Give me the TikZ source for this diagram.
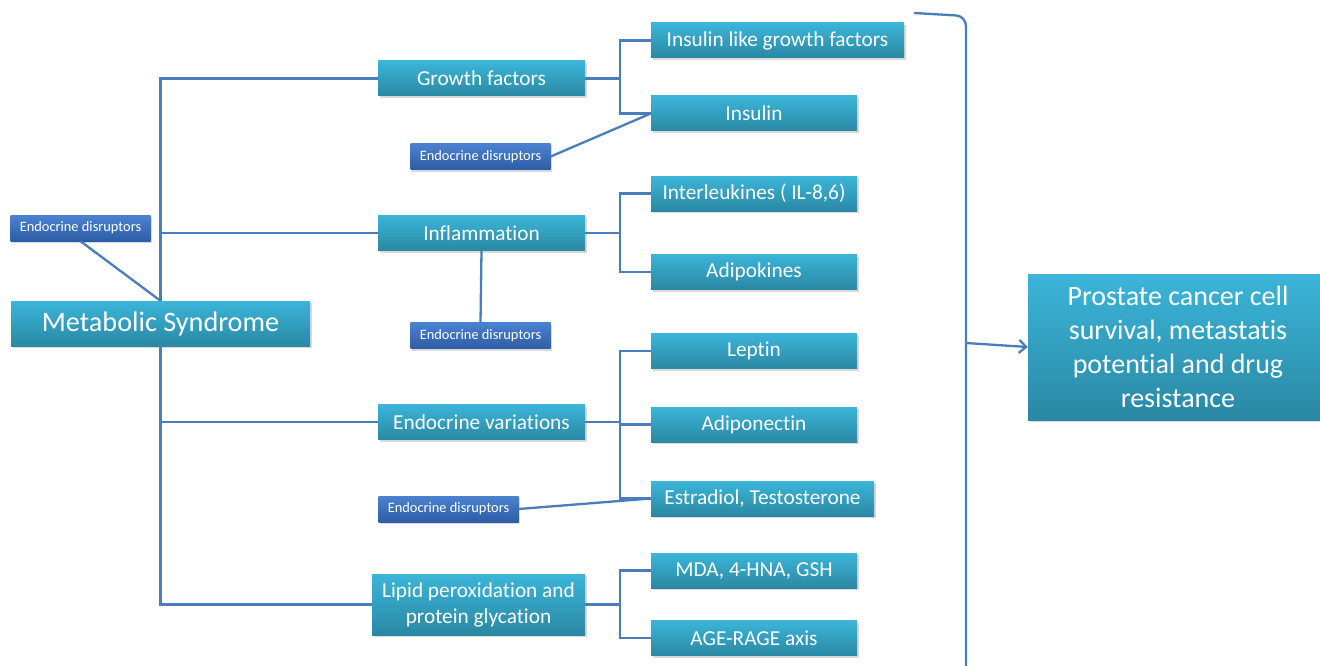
\documentclass[tikz,border=0pt]{standalone}
\usepackage{fontspec}
\setmainfont{Carlito}[Ligatures=NoCommon]
\usetikzlibrary{positioning, arrows.meta, shadows}
\definecolor{boxtop}{HTML}{3BB5D9}
\definecolor{boxbot}{HTML}{2A88A3}
\definecolor{edtop}{HTML}{4B82D0}
\definecolor{edbot}{HTML}{2D5DA5}
\definecolor{linkblue}{HTML}{4A7EBB}
\tikzset{
box/.style={shape=rectangle, inner sep=0, top color=boxtop, bottom color=boxbot, text=white, font=\fontsize{21.3}{26}\selectfont, minimum height=35, drop shadow={shadow xshift=1.5pt, shadow yshift=-2pt, opacity=0.3}}, leaf/.style={box, minimum width=206}, disruptor/.style={box, top color=edtop, bottom color=edbot, minimum width=140, minimum height=26, font=\fontsize{14.4}{17}\selectfont}, link/.style={draw=linkblue, line width=2.3pt}}

\begin{document}
\begin{tikzpicture}[x=1pt, y=-1pt]
\useasboundingbox (0,0) rectangle (1320,666);
% main boxes
\node [box, minimum width=299, minimum height=45, font=\fontsize{28.2}{33}\selectfont] at (160.5,323.5) (ms) {Metabolic Syndrome};
\node [box, minimum width=207] at (481.5,78.5) (gf) {Growth factors};
\node [box, minimum width=207] at (481.5,233) (inf) {Inflammation};
\node [box, minimum width=207] at (481.5,422) (ev) {Endocrine variations};
\node [box, minimum width=213, minimum height=61, align=center] at (478.5,604.5) (lp) {Lipid peroxidation and\\protein glycation};
% leaves
\node [leaf, minimum width=253] at (777.5,40.5) (igf) {Insulin like growth factors};
\node [leaf] at (754,113.5) (ins) {Insulin};
\node [leaf] at (754,193.5) (il) {Interleukines ( IL-8,6)};
\node [leaf] at (754,272) (adk) {Adipokines};
\node [leaf] at (754,351) (lep) {Leptin};
\node [leaf] at (754,424.5) (adn) {Adiponectin};
\node [leaf, minimum width=223] at (762.5,498.5) (est) {Estradiol, Testosterone};
\node [leaf] at (754,570.5) (mda) {MDA, 4-HNA, GSH};
\node [leaf] at (754,638) (age) {AGE-RAGE axis};
% disruptors
\node [disruptor] at (80.5,228) (ed-1) {Endocrine disruptors};
\node [disruptor] at (480.5,156.5) (ed-2) {Endocrine disruptors};
\node [disruptor] at (480.5,335.5) (ed-3) {Endocrine disruptors};
\node [disruptor] at (448.5,509) (ed-4) {Endocrine disruptors};
\node [box, minimum width=300, minimum height=146, align=center, font=\fontsize{28}{34}\selectfont] at (1178,347) (pc) {Prostate cancer cell\\survival, metastatis\\potential and drug\\resistance};

\draw [link] (ms.north) |- (gf.west);
\draw [link] (ms.north) |- (inf.west);
\draw [link] (ms.south) |- (ev.west);
\draw [link] (ms.south) |- (lp.west);
\draw [link] (ed-1.south) -- (ms.north);
\foreach \p/\a/\b in {gf/igf/ins, inf/il/adk, ev/lep/est, ev/adn/adn, lp/mda/age}{
      \draw [link] (\p.east) -- ++(35,0) |- (\a.west);
      \draw [link] (\p.east) -- ++(35,0) |- (\b.west);
}
\draw [link] (ed-2.east) -- (ins.west);
\draw [link] (inf.south) -- (ed-3.north);
\draw [link] (ed-4.east) -- (est.west);
% bracket
\coordinate (brk-top) at (914,13);
\coordinate (brk) at (966,343);
\draw [link, rounded corners=10pt] (brk-top) -- (966,16) -- (966,680);
\draw [link, -{Straight Barb[length=7pt, width=13pt]}] (brk) -- (pc.west);
\end{tikzpicture}
\end{document}
